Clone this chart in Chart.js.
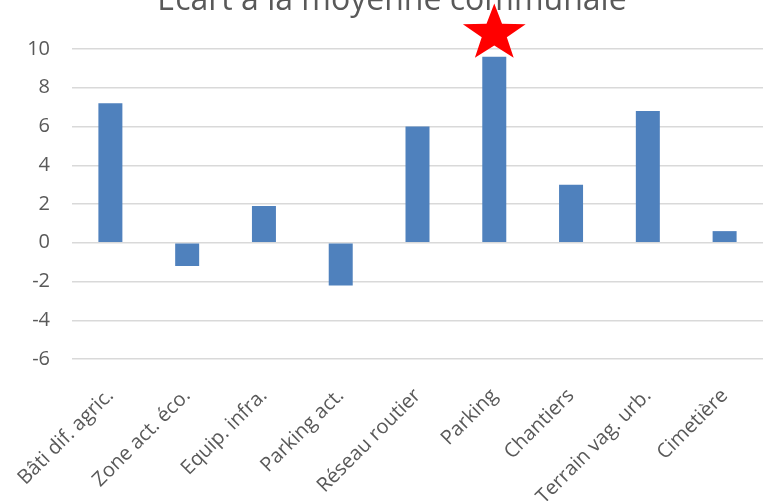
<!DOCTYPE html>
<html>
<head>
<meta charset="utf-8">
<script src="https://cdn.jsdelivr.net/npm/chart.js@4/dist/chart.umd.min.js"></script>
<style>
    html, body { margin: 0; padding: 0; background: #fff; }
    #wrap { width: 769px; height: 501px; }
</style>
</head>
<body>
<div id="wrap"><canvas id="ecart-chart"></canvas></div>
<script>
const categories = ['Bâti dif. agric.', 'Zone act. éco.', 'Equip. infra.', 'Parking act.', 'Réseau routier', 'Parking', 'Chantiers', 'Terrain vag. urb.', 'Cimetière']
const ecart = [7.2, -1.2, 1.9, -2.2, 6.0, 9.6, 3.0, 6.8, 0.6]
const yTicks = [-6, -4, -2, 0, 2, 4, 6, 8, 10]
const titleText = 'Écart à la moyenne communale'
const starCategory = 'Parking'
const starValue = 10.8

// title (cut at top) and red star above the highlighted bar
const decorations = {
    id: 'decorations',
    afterDraw(chart) {
        const ctx = chart.ctx
        ctx.save()
        ctx.fillStyle = '#595959'
        ctx.font = '32px "Open Sans"'
        ctx.textAlign = 'center'
        ctx.textBaseline = 'alphabetic'
        ctx.fillText(titleText, 392, 10)

        const x = chart.scales.x.getPixelForValue(categories.indexOf(starCategory))
        const y = chart.scales.y.getPixelForValue(starValue)
        const R = 30, r = 12
        ctx.beginPath()
        for (let i = 0; i < 10; i++) {
            const rad = i % 2 === 0 ? R : r
            const a = -Math.PI / 2 + i * Math.PI / 5
            const px = x + rad * Math.cos(a) * 1.1
            const py = y + rad * Math.sin(a)
            if (i === 0) ctx.moveTo(px, py)
            else ctx.lineTo(px, py)
        }
        ctx.closePath()
        ctx.fillStyle = '#ff0000'
        ctx.fill()
        ctx.restore()
    }
}

new Chart('ecart-chart', {
    type: 'bar',
    data: {
        labels: categories,
        datasets: [{
            data: ecart,
            backgroundColor: '#4f81bd',
            barPercentage: 0.3125,
            categoryPercentage: 1
        }]
    },
    options: {
        responsive: true,
        maintainAspectRatio: false,
        animation: false,
        layout: { padding: { top: 49, right: 6, left: 0, bottom: 0 } },
        plugins: {
            legend: { display: false },
            title: { display: false },
            tooltip: { enabled: false }
        },
        scales: {
            x: {
                grid: { display: false },
                border: { display: false },
                ticks: {
                    color: '#595959',
                    font: { family: 'Open Sans', size: 20 },
                    minRotation: 45,
                    maxRotation: 45,
                    padding: 17
                },
                afterFit(scale) { scale.height = 142 }
            },
            y: {
                min: -6,
                max: 10,
                afterBuildTicks(scale) { scale.ticks = yTicks.map(v => ({ value: v })) },
                grid: { color: '#d9d9d9', lineWidth: 1.5, drawTicks: false },
                border: { display: false },
                ticks: {
                    color: '#595959',
                    font: { family: 'Open Sans', size: 20 },
                    padding: 22
                },
                afterFit(scale) { scale.width = 72 }
            }
        }
    },
    plugins: [decorations]
})
</script>
</body>
</html>
